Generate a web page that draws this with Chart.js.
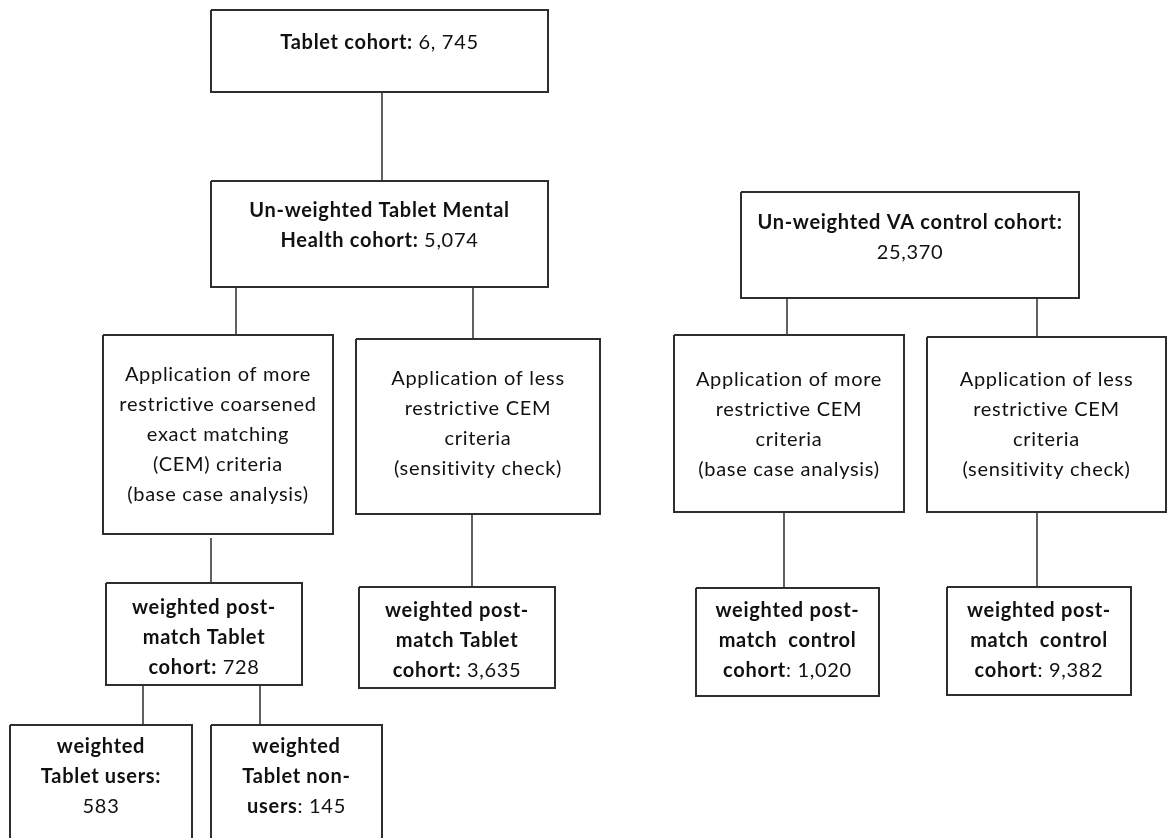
<!DOCTYPE html>
<html>
<head>
<meta charset="utf-8">
<script src="https://cdn.jsdelivr.net/npm/chart.js@4.4.1/dist/chart.umd.min.js"></script>
<style>
  html, body { margin: 0; padding: 0; background: #fff; }
  #wrap { width: 1168px; height: 838px; position: relative; }
</style>
</head>
<body>
<div id="wrap"><canvas id="flow"></canvas></div>
<script>
// Flowchart content: one entry per box, text lines as [text, bold] segments
var boxText = [
  [[["Tablet cohort: ", 1], ["6, 745", 0]]],
  [[["Un-weighted Tablet Mental", 1]], [["Health cohort: ", 1], ["5,074", 0]]],
  [[["Application of more", 0]], [["restrictive coarsened", 0]], [["exact matching", 0]], [["(CEM) criteria", 0]], [["(base case analysis)", 0]]],
  [[["Application of less", 0]], [["restrictive CEM", 0]], [["criteria", 0]], [["(sensitivity check)", 0]]],
  [[["weighted post-", 1]], [["match Tablet", 1]], [["cohort: ", 1], ["728", 0]]],
  [[["weighted post-", 1]], [["match Tablet", 1]], [["cohort: ", 1], ["3,635", 0]]],
  [[["weighted", 1]], [["Tablet users:", 1]], [["583", 0]]],
  [[["weighted", 1]], [["Tablet non-", 1]], [["users", 1], [": 145", 0]]],
  [[["Un-weighted VA control cohort:", 1]], [["25,370", 0]]],
  [[["Application of more", 0]], [["restrictive CEM", 0]], [["criteria", 0]], [["(base case analysis)", 0]]],
  [[["Application of less", 0]], [["restrictive CEM", 0]], [["criteria", 0]], [["(sensitivity check)", 0]]],
  [[["weighted post-", 1]], [["match  control", 1]], [["cohort", 1], [": 1,020", 0]]],
  [[["weighted post-", 1]], [["match  control", 1]], [["cohort", 1], [": 9,382", 0]]]
];

// box edges in page units (x right, y down)
var boxLeft   = [211, 211, 103, 356, 106, 359,  10, 211,  741, 674,  927, 696,  947];
var boxRight  = [548, 548, 333, 600, 302, 555, 192, 382, 1079, 904, 1166, 879, 1131];
var boxTop    = [ 10, 181, 335, 339, 583, 587, 725, 725,  192, 335,  337, 588,  587];
var boxBottom = [ 92, 287, 534, 514, 685, 688, 860, 860,  298, 512,  512, 696,  695];
var firstLineY = [43, 211, 375, 379, 608, 611, 747, 747, 223, 380, 380, 611, 611];

// connectors: x, from y, to y
var linkX  = [382, 236, 473, 211, 472, 143, 260, 787, 1037, 784, 1037];
var linkY0 = [ 92, 287, 287, 538, 514, 685, 685, 298,  298, 512,  512];
var linkY1 = [181, 335, 339, 583, 587, 725, 725, 335,  337, 588,  587];

var datasets = [];
for (var i = 0; i < boxLeft.length; i++) {
  datasets.push({
    data: [
      {x: boxLeft[i], y: boxTop[i]}, {x: boxRight[i], y: boxTop[i]},
      {x: boxRight[i], y: boxBottom[i]}, {x: boxLeft[i], y: boxBottom[i]},
      {x: boxLeft[i], y: boxTop[i]}
    ],
    showLine: true, borderColor: "#2e2e2e", borderWidth: 2,
    pointRadius: 0, fill: false, tension: 0
  });
}
for (var j = 0; j < linkX.length; j++) {
  datasets.push({
    data: [{x: linkX[j], y: linkY0[j]}, {x: linkX[j], y: linkY1[j]}],
    showLine: true, borderColor: "#3a3a3a", borderWidth: 1.6,
    pointRadius: 0, fill: false
  });
}

// writes the box texts, centred in each box
var boxLabels = {
  id: "boxLabels",
  afterDatasetsDraw: function (chart) {
    var ctx = chart.ctx, sx = chart.scales.x, sy = chart.scales.y;
    ctx.save();
    ctx.fillStyle = "#111";
    ctx.textBaseline = "middle";
    ctx.textAlign = "left";
    ctx.letterSpacing = "0.7px";
    boxText.forEach(function (lines, i) {
      var cx = sx.getPixelForValue((boxLeft[i] + boxRight[i]) / 2);
      lines.forEach(function (segs, k) {
        var y = sy.getPixelForValue(firstLineY[i] + k * 30);
        var total = 0;
        segs.forEach(function (s) {
          ctx.font = (s[1] ? "bold " : "") + "20px Lato";
          total += ctx.measureText(s[0]).width;
        });
        var x = cx - total / 2;
        segs.forEach(function (s) {
          ctx.font = (s[1] ? "bold " : "") + "20px Lato";
          ctx.fillText(s[0], x, y);
          x += ctx.measureText(s[0]).width;
        });
      });
    });
    ctx.restore();
  }
};

new Chart(document.getElementById("flow").getContext("2d"), {
  type: "scatter",
  data: { datasets: datasets },
  options: {
    responsive: true,
    maintainAspectRatio: false,
    animation: false,
    layout: { padding: 0 },
    plugins: { legend: { display: false }, tooltip: { enabled: false } },
    scales: {
      x: { type: "linear", min: 0, max: 1168, display: false },
      y: { type: "linear", min: 0, max: 838, reverse: true, display: false }
    }
  },
  plugins: [boxLabels]
});
</script>
</body>
</html>
